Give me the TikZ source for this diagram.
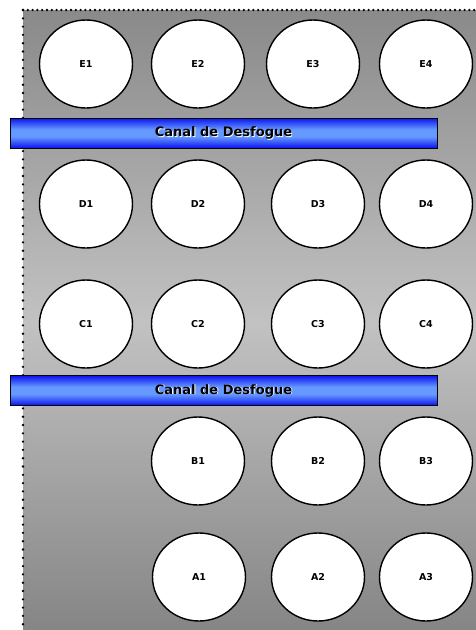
\documentclass[tikz,border=0pt]{standalone}
\usepackage{fontspec}
\setmainfont{DejaVu Sans}
\usetikzlibrary{shapes.geometric}

\definecolor{azulclaro}{RGB}{102,153,255}
\definecolor{azuloscuro}{RGB}{10,20,240}
% shadings: the path is mapped onto 25bp--75bp
\pgfdeclareverticalshading{fondo}{100bp}{%
  color(0bp)=(black!48); color(25bp)=(black!48); color(50bp)=(black!24); color(75bp)=(black!46); color(100bp)=(black!46)}
\pgfdeclareverticalshading{azul}{100bp}{%
  color(0bp)=(azuloscuro); color(25bp)=(azuloscuro); color(44bp)=(azulclaro); color(56bp)=(azulclaro); color(75bp)=(azuloscuro); color(100bp)=(azuloscuro)}

\tikzset{
  pozo/.style={ellipse, draw=black, line width=1.4pt, fill=white, inner sep=0pt,
    minimum width=93pt, minimum height=88pt, font=\bfseries\fontsize{9.5}{10}\selectfont},
  canal/.style={draw=black, thick, minimum width=427pt, minimum height=30pt, shading=azul},
  canaltext/.style={font=\bfseries\fontsize{13}{14}\selectfont},
  borde/.style={line width=2.6pt, line cap=round}
}

\begin{document}
\begin{tikzpicture}[x=1pt, y=-1pt]

  % frame
  \useasboundingbox (0,0) rectangle (476,630);
  \shade[shading=fondo] (23,10) rectangle (480,634);
  \draw[borde, dash pattern=on 0pt off 8.3pt] (23,10) -- (23,634);
  \draw[borde, dash pattern=on 0pt off 4.8pt] (23,10) -- (480,10);

  % row E
  \node[pozo] (e1) at (86,64) {E1};
  \node[pozo] (e2) at (198,64) {E2};
  \node[pozo] (e3) at (313,64) {E3};
  \node[pozo] (e4) at (426,64) {E4};

  % upper canal
  \node[canal] (canal1) at (223.5,133) {};
  \node[canaltext, white] at ([shift={(0.9pt,-0.9pt)}]canal1.center) {Canal de Desfogue};
  \node[canaltext] (canaltxt1) at (canal1.center) {Canal de Desfogue};

  % row D
  \node[pozo] (d1) at (86,204) {D1};
  \node[pozo] (d2) at (198,204) {D2};
  \node[pozo] (d3) at (318,204) {D3};
  \node[pozo] (d4) at (426,204) {D4};

  % row C
  \node[pozo] (c1) at (86,324) {C1};
  \node[pozo] (c2) at (198,324) {C2};
  \node[pozo] (c3) at (318,324) {C3};
  \node[pozo] (c4) at (426,324) {C4};

  % lower canal
  \node[canal] (canal2) at (223.5,390.5) {};
  \node[canaltext, white] at ([shift={(0.9pt,-0.9pt)}]canal2.center) {Canal de Desfogue};
  \node[canaltext] (canaltxt2) at (canal2.center) {Canal de Desfogue};

  % row B
  \node[pozo] (b1) at (198,461) {B1};
  \node[pozo] (b2) at (318,461) {B2};
  \node[pozo] (b3) at (426,461) {B3};

  % row A
  \node[pozo] (a1) at (199,577) {A1};
  \node[pozo] (a2) at (318,577) {A2};
  \node[pozo] (a3) at (426,577) {A3};

\end{tikzpicture}
\end{document}
